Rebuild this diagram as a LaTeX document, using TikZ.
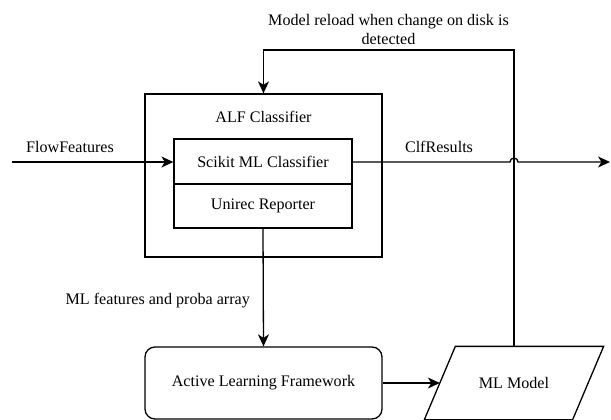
\documentclass[tikz,border=0pt]{standalone}
\usepackage{fontspec}
\setmainfont{Liberation Serif}
\usetikzlibrary{arrows.meta}
\begin{document}
\begin{tikzpicture}[x=1pt,y=-1pt,
  font=\fontsize{16.1}{19}\selectfont,
  line width=1.3pt,
  box/.style={draw,rectangle,inner sep=0pt},
  lbl/.style={inner sep=0pt},
  arr/.style={-{Stealth[length=12pt,width=11pt,inset=3.5pt]}}]
  \useasboundingbox (0,0) rectangle (611,420);

  % ALF classifier container with its two inner blocks
  \node[box,minimum width=237pt,minimum height=163pt] (alf) at (263.5,175.5) {};
  \node[lbl] (alftitle) at (263.5,117) {ALF Classifier};
  \node[box,minimum width=178pt,minimum height=45pt] (scikit) at (263,161.5) {Scikit ML Classifier};
  \node[box,minimum width=178pt,minimum height=44pt] (unirec) at (263,206) {Unirec Reporter};

  % lower row
  \node[box,rounded corners=10pt,minimum width=237pt,minimum height=72pt] (alfw) at (263.5,383) {Active Learning Framework};
  \node[rectangle,inner sep=0pt,minimum width=147pt,minimum height=72pt] (ml) at (514,383) {ML Model};
  % slanted outline of the model store
  \draw ([xshift=15.5pt]ml.north west) -- ([xshift=15.5pt]ml.north east)
     -- ([xshift=-15.5pt]ml.south east) -- ([xshift=-15.5pt]ml.south west) -- cycle;

  % free ends and bend points
  \coordinate (in) at (12,162);
  \coordinate (out) at (610,162);
  \coordinate (topR) at (ml.north |- 0,50);
  \coordinate (topL) at (alf.north |- 0,50);

  % input and output flows
  \draw[arr] (in) -- (scikit.west |- in);
  \node[lbl] (flowlbl) at (70,147) {FlowFeatures};
  \draw[arr] (scikit.east |- out) -- ([xshift=-4pt]topR |- out)
     arc[start angle=180,end angle=0,radius=4pt] -- (out);
  \node[lbl] (clflbl) at (439,147) {ClfResults};

  % reporter output into the framework
  \draw[arr] (unirec.south) -- (alfw.north);
  \node[lbl,anchor=east] (featlbl) at (250.5,301) {ML features and proba array};

  % framework writes the model
  \draw[arr] (alfw.east) -- (ml.west);

  % reload loop
  \draw[arr] (ml.north) -- (topR) -- (topL) -- (alf.north);
  \node[lbl,align=center] (reloadlbl) at (388.5,29.5) {Model reload when change on disk is\\detected};
\end{tikzpicture}
\end{document}
